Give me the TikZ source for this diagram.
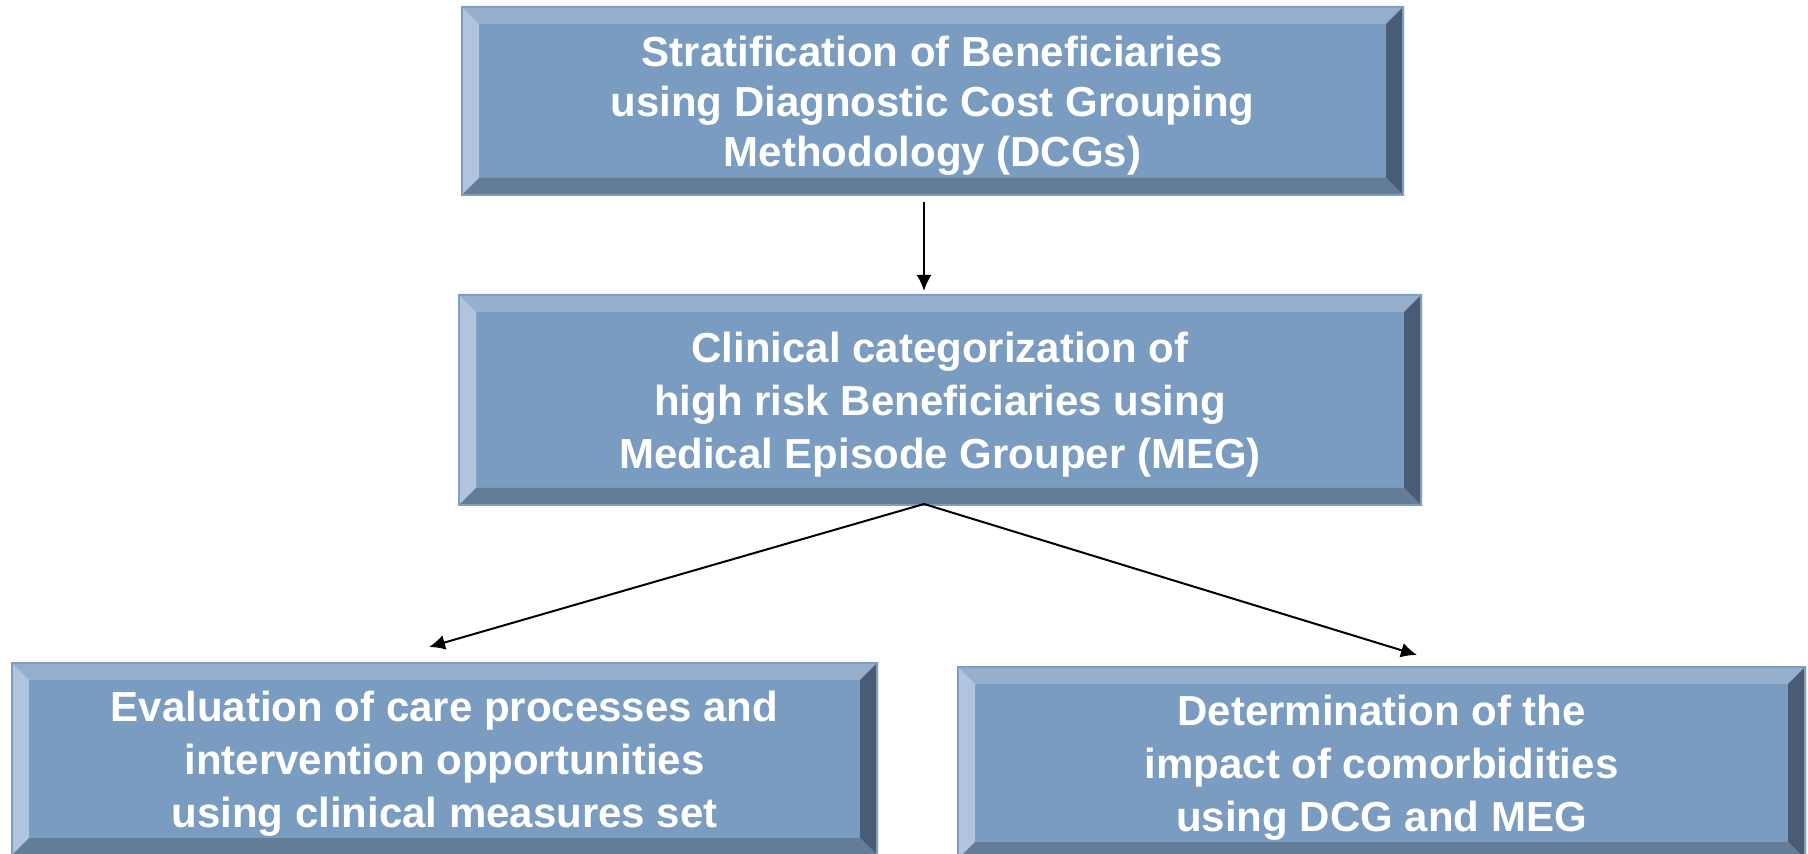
\documentclass[tikz,border=0pt]{standalone}
\usepackage{fontspec}
\setmainfont{Liberation Sans}
\usetikzlibrary{calc,arrows.meta}
\definecolor{faceblue}{HTML}{7A9CC0}
\definecolor{edgeblue}{HTML}{7F9EC4}
\definecolor{toplight}{HTML}{96AFCD}
\definecolor{leftlight}{HTML}{B0C4DD}
\definecolor{rightdark}{HTML}{485C74}
\definecolor{bottomdark}{HTML}{637C98}
\tikzset{
    bevelbox/.style={rectangle, draw=edgeblue, line width=1pt, inner sep=0pt,
        text=white, align=center, text depth=0pt,
        font=\fontsize{21}{26.5}\selectfont\bfseries}
}
\tikzset{
    every edge/.append style={line width=1pt}
}
\pgfdeclarelayer{background}
\pgfsetlayers{background,main}

\begin{document}
\begin{tikzpicture}[x=0.5pt, y=-0.5pt, >={Latex[length=8pt,width=7.5pt]}]
  \useasboundingbox (0,0) rectangle (1808,854);

  \node (strat) [bevelbox, minimum width=470.5pt, minimum height=94pt,
    font=\fontsize{21}{25}\selectfont\bfseries]
    at (932.5,101) {Stratification of Beneficiaries\\using Diagnostic Cost Grouping\\Methodology (DCGs)};
  \node (clin) [bevelbox, minimum width=481pt, minimum height=105pt]
    at (940,400) {Clinical categorization of\\high risk Beneficiaries using\\Medical Episode Grouper (MEG)};
  \node (eval) [bevelbox, minimum width=432.5pt, minimum height=96pt]
    at (444.5,759) {Evaluation of care processes and\\intervention opportunities\\using clinical measures set};
  \node (comorb) [bevelbox, minimum width=423.5pt, minimum height=96pt]
    at (1381.5,763) {Determination of the\\impact of comorbidities\\using DCG and MEG};

  % face and bevels behind the text
  \begin{pgfonlayer}{background}
    \foreach \n in {strat,clin,eval,comorb} {
      \fill[faceblue] (\n.north west) rectangle (\n.south east);
      \fill[toplight] (\n.north west) -- (\n.north east)
        -- ($(\n.north east)+(-18,18)$) -- ($(\n.north west)+(18,18)$) -- cycle;
      \fill[leftlight] (\n.north west) -- ($(\n.north west)+(18,18)$)
        -- ($(\n.south west)+(18,-18)$) -- (\n.south west) -- cycle;
      \fill[rightdark] (\n.north east) -- ($(\n.north east)+(-18,18)$)
        -- ($(\n.south east)+(-18,-18)$) -- (\n.south east) -- cycle;
      \fill[bottomdark] (\n.south west) -- ($(\n.south west)+(18,-18)$)
        -- ($(\n.south east)+(-18,-18)$) -- (\n.south east) -- cycle;
    }
  \end{pgfonlayer}

  \coordinate (split) at (924,504);
  \coordinate (evaltip) at (429,647);
  \coordinate (comorbtip) at (1417,655);

  \draw (strat.south -| split) edge [->, shorten <=3pt, shorten >=1.5pt] (clin.north -| split);
  \draw (split) edge [->] (evaltip);
  \draw (split) edge [->] (comorbtip);
\end{tikzpicture}
\end{document}
